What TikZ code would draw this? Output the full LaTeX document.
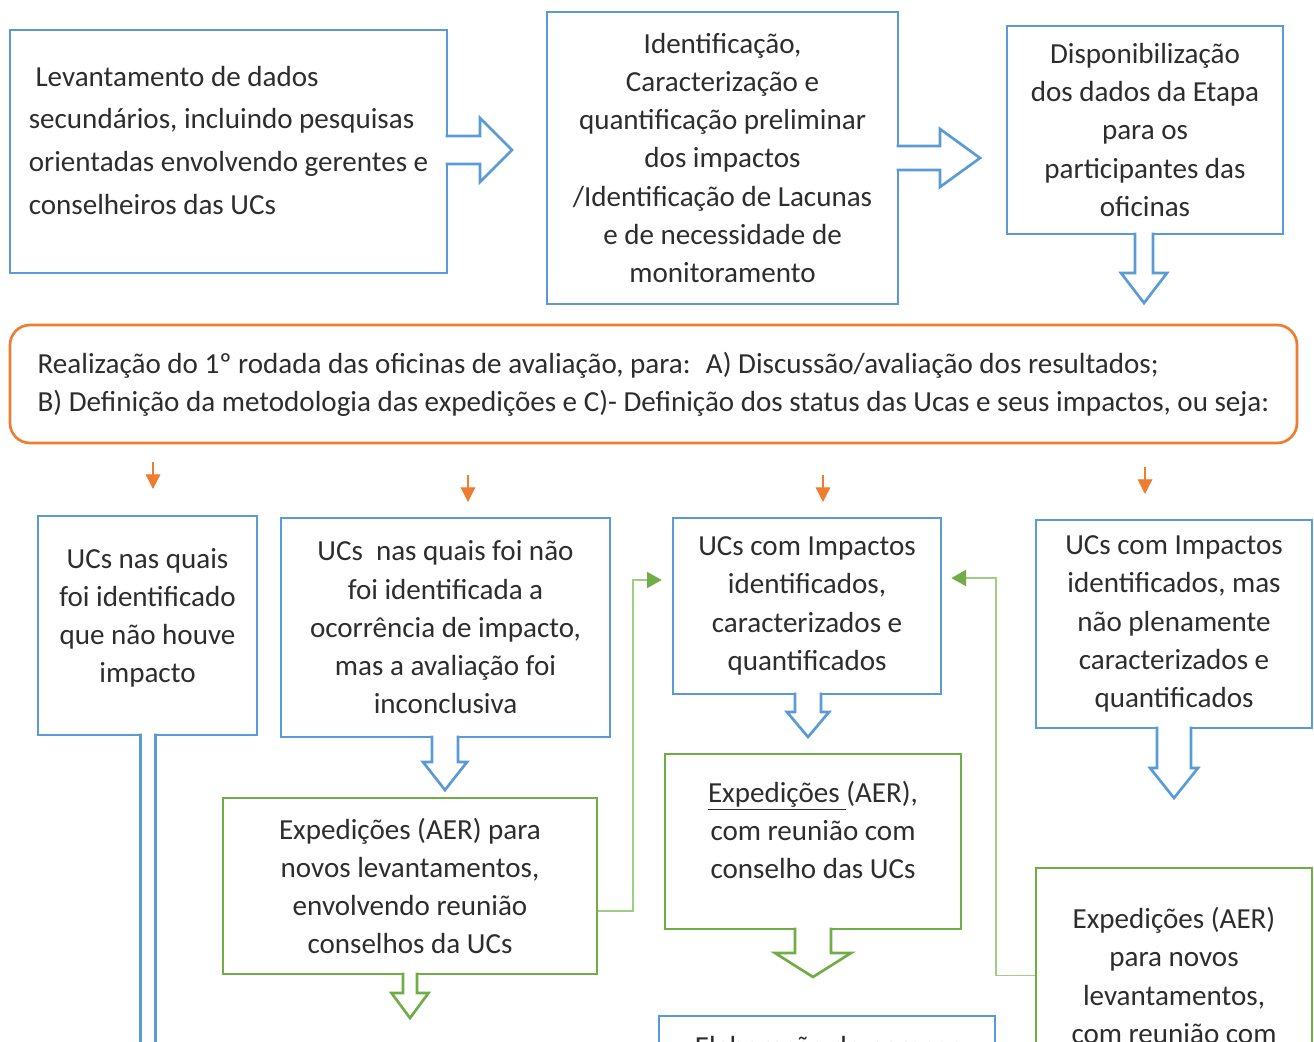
\documentclass[tikz,border=0pt]{standalone}
\usepackage{fontspec}
\setmainfont{Carlito}
\usetikzlibrary{arrows.meta,calc}
\definecolor{mblue}{RGB}{91,155,213}
\definecolor{mgreen}{RGB}{112,173,71}
\definecolor{lgreen}{RGB}{160,205,130}
\definecolor{morange}{RGB}{237,125,49}
\definecolor{mtext}{RGB}{45,45,45}
\newcommand\dnarrow[7]{%
  \fill[white] (#2-#4,#3-2.5) -- (#2-#4,#6) -- (#2-#5,#6) -- (#2,#7) -- (#2+#5,#6) -- (#2+#4,#6) -- (#2+#4,#3-2.5) -- cycle;
  \draw[#1,line width=2pt,line join=miter] (#2-#4,#3-1.3) -- (#2-#4,#6) -- (#2-#5,#6) -- (#2,#7) -- (#2+#5,#6) -- (#2+#4,#6) -- (#2+#4,#3-1.3);}
\newcommand\rtarrow[7]{%
  \fill[white] (#2-2.5,#3-#4) -- (#6,#3-#4) -- (#6,#3-#5) -- (#7,#3) -- (#6,#3+#5) -- (#6,#3+#4) -- (#2-2.5,#3+#4) -- cycle;
  \draw[#1,line width=2pt,line join=miter] (#2-1.3,#3-#4) -- (#6,#3-#4) -- (#6,#3-#5) -- (#7,#3) -- (#6,#3+#5) -- (#6,#3+#4) -- (#2-1.3,#3+#4);}
\begin{document}
\begin{tikzpicture}[x=0.75pt,y=-0.75pt,
  rect/.style n args={4}{at={({(#1+#3)/2},{(#2+#4)/2})},minimum width={(#3-#1)*0.75pt},minimum height={(#4-#2)*0.75pt}},
  txt/.style={text=mtext,inner sep=0pt,align=center,font=\fontsize{21.8}{28.7}\selectfont},
  bbox/.style={txt,draw=mblue,line width=2pt,fill=white},
  gbox/.style={txt,draw=mgreen,line width=2pt,fill=white},
  obox/.style={txt,draw=morange,line width=2pt,fill=white,rounded corners=15pt,align=left},
  gconn/.style={draw=lgreen,line width=1.3pt,-{Triangle[length=11pt,width=12pt,color=mgreen]}},
  oarr/.style={draw=morange,line width=0.9pt,-{Triangle[length=11pt,width=11pt]}}]
\fill[white] (0,0) rectangle (1314,1042);
\useasboundingbox (0,0) rectangle (1314,1042);
\clip (0,0) rectangle (1314,1042);
% top row
\node[bbox,rect={10}{30}{447}{273},align=left,font=\fontsize{21.8}{32}\selectfont] (A)
  {\hspace*{5pt}Levantamento de dados\\ secundários, incluindo pesquisas\\ orientadas envolvendo gerentes e\\ conselheiros das UCs\\[-14.75pt]};
\node[bbox,rect={547}{12}{898}{304}] (B)
  {Identificação,\\ Caracterização e\\ quantificação preliminar\\ dos impactos\\ /Identificação de Lacunas\\ e de necessidade de\\ monitoramento};
\node[bbox,rect={1007}{26}{1283}{234}] (C)
  {Disponibilização\\ dos dados da Etapa\\ para os\\ participantes das\\ oficinas};
\rtarrow{mblue}{447}{150}{14}{32}{480}{512}
\rtarrow{mblue}{898}{158}{12}{29}{940}{980}
\dnarrow{mblue}{1144}{234}{9}{23}{273}{303}
% orange box
\node[obox,rect={10}{325}{1297}{443}] (O)
  {Realização do 1º rodada das oficinas de avaliação, para: \ A) Discussão/avaliação dos resultados;\\
   B) Definição da metodologia das expedições e C)- Definição dos status das Ucas e seus impactos, ou seja:};
\coordinate (o1s) at (153,462); \coordinate (o1e) at (153,489);
\coordinate (o2s) at (468,475); \coordinate (o2e) at (468,502);
\coordinate (o3s) at (823,475); \coordinate (o3e) at (823,502);
\coordinate (o4s) at (1145,467); \coordinate (o4e) at (1145,494);
\draw[oarr] (o1s) -- (o1e);
\draw[oarr] (o2s) -- (o2e);
\draw[oarr] (o3s) -- (o3e);
\draw[oarr] (o4s) -- (o4e);
% blue row
\node[bbox,rect={38}{516}{257}{735}] (D)
  {UCs nas quais\\ foi identificado\\ que não houve\\ impacto\\[-13.7pt]};
\node[bbox,rect={281}{518}{610}{737}] (E)
  {UCs \ nas quais foi não\\ foi identificada a\\ ocorrência de impacto,\\ mas a avaliação foi\\ inconclusiva};
\node[bbox,rect={673}{518}{941}{694}] (F)
  {UCs com Impactos\\ identificados,\\ caracterizados e\\ quantificados};
\node[bbox,rect={1036}{520}{1312}{728}] (G)
  {UCs com Impactos\\ identificados, mas\\ não plenamente\\ caracterizados e\\ quantificados};
\dnarrow{mblue}{148}{735}{7.5}{22}{1100}{1130}
\dnarrow{mblue}{445}{737}{13}{22}{762}{790}
\dnarrow{mblue}{808}{694}{13}{21}{712}{737}
\dnarrow{mblue}{1174}{728}{17}{24}{768}{798}
% green row
\node[gbox,rect={223}{798}{597}{974}] (H)
  {Expedições (AER) para\\ novos levantamentos,\\ envolvendo reunião\\ conselhos da UCs};
\node[gbox,rect={665}{754}{961}{929}] (I)
  {\underline{Expedições\ }(AER),\\ com reunião com\\ conselho das UCs\\[-11.45pt]};
\node[gbox,rect={1036}{868}{1312}{1083}] (J)
  {Expedições (AER)\\ para novos\\ levantamentos,\\ com reunião com};
\node[bbox,rect={659}{1016}{995}{1082}] (K) {Elaboração do parecer};
\dnarrow{mgreen}{410}{974}{7}{18.5}{993}{1018}
\dnarrow{mgreen}{813}{929}{18}{38}{953}{977}
\draw[gconn] ($(H.east)+(0,25)$) -- ++(35,0) |- ($(F.west)+(-10,-26)$);
\draw[gconn] ($(J.west)+(0,0)$) -- ++(-39,0) |- ($(F.east)+(9,-28)$);
\end{tikzpicture}
\end{document}
